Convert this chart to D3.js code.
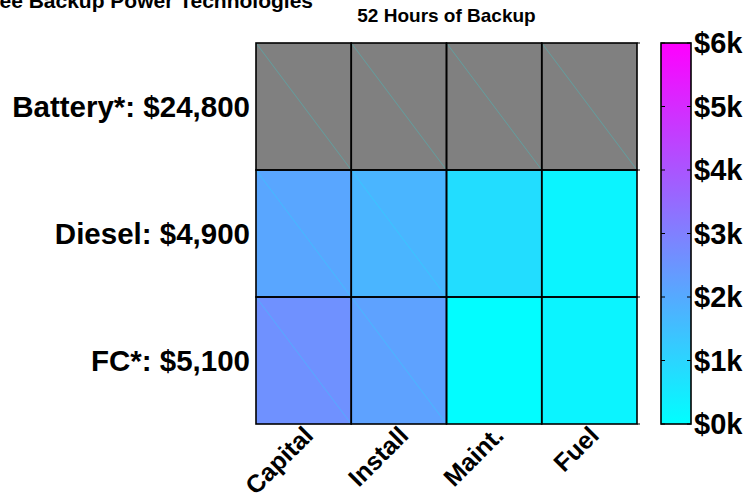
<!DOCTYPE html>
<html>
<head>
<meta charset="utf-8">
<script src="https://cdn.jsdelivr.net/npm/d3@7"></script>
<style>
  body { margin: 0; background: #ffffff; }
  text { font-family: "Liberation Sans", Arial, sans-serif; font-weight: bold; fill: #000000; }
</style>
</head>
<body>
<div id="chart"></div>
<script>
// Technologies (rows) and the total cost shown in the row label
const technologies = ['Battery*', 'Diesel', 'FC*'];
const totals = [24800, 4900, 5100];

// Cost categories (columns)
const costTypes = ['Capital', 'Install', 'Maint.', 'Fuel'];

// Cost per category, in dollars (battery cells are off the scale and drawn grey)
const batteryCosts = [null, null, null, null];
const dieselCosts = [2100, 1750, 800, 250];
const fcCosts = [2600, 2200, 50, 250];

// Colour bar ticks
const colorTicks = [0, 1000, 2000, 3000, 4000, 5000, 6000];

const chartTitle = 'Cost of Three Backup Power Technologies';
const chartSubtitle = '52 Hours of Backup';

// Total size of the svg
const totalWidth = 753;
const totalHeight = 497;

// Heatmap frame
const heat = { left: 256, top: 43, width: 381, height: 381 };
// Colour bar frame
const bar = { left: 661, top: 43, width: 30, height: 381 };

const svg = d3
    .select('#chart')
    .append('svg')
    .attr('width', totalWidth)
    .attr('height', totalHeight);

// Build the cell table
const rows = [batteryCosts, dieselCosts, fcCosts];
const cells = [];
rows.forEach((vals, r) => {
    vals.forEach((v, c) => {
        cells.push({ tech: technologies[r], cost: costTypes[c], value: v });
    });
});

// Scales
const x = d3.scaleBand().domain(costTypes).range([heat.left, heat.left + heat.width]);
const y = d3.scaleBand().domain(technologies).range([heat.top, heat.top + heat.height]);
const color = d3.scaleLinear().domain([0, 6000]).range(['#00ffff', '#ff00ff']).clamp(true);
const cbarY = d3.scaleLinear().domain([0, 6000]).range([bar.top + bar.height, bar.top]);

const fillOf = (d) => (d.value === null ? '#808080' : color(d.value));

// Cells
const cellGroup = svg.append('g');
cellGroup
    .selectAll('rect')
    .data(cells)
    .enter()
    .append('rect')
    .attr('x', (d) => x(d.cost))
    .attr('y', (d) => y(d.tech))
    .attr('width', x.bandwidth())
    .attr('height', y.bandwidth())
    .attr('fill', fillOf);

// Faint diagonal seam seen inside the cells
cellGroup
    .selectAll('line')
    .data(cells.filter((d) => d.value === null || d.value > 1000))
    .enter()
    .append('line')
    .attr('x1', (d) => x(d.cost))
    .attr('y1', (d) => y(d.tech))
    .attr('x2', (d) => x(d.cost) + x.bandwidth())
    .attr('y2', (d) => y(d.tech) + y.bandwidth())
    .attr('stroke', (d) => d3.interpolateRgb(fillOf(d), '#00ffff')(0.3))
    .attr('stroke-width', 1)
    .attr('stroke-opacity', 0.8);

// Cell edges
cellGroup
    .selectAll('rect.edge')
    .data(cells)
    .enter()
    .append('rect')
    .attr('class', 'edge')
    .attr('x', (d) => x(d.cost))
    .attr('y', (d) => y(d.tech))
    .attr('width', x.bandwidth())
    .attr('height', y.bandwidth())
    .attr('fill', 'none')
    .attr('stroke', '#000000')
    .attr('stroke-width', 1.6);

// Small ticks on the right edge at the row borders
const rowEdges = technologies.map((t) => y(t)).concat([heat.top + heat.height]);
svg.append('g')
    .selectAll('line')
    .data(rowEdges)
    .enter()
    .append('line')
    .attr('x1', heat.left + heat.width)
    .attr('x2', heat.left + heat.width + 3)
    .attr('y1', (d) => d)
    .attr('y2', (d) => d)
    .attr('stroke', '#000000')
    .attr('stroke-width', 1);

// Row labels
svg.append('g')
    .selectAll('text')
    .data(technologies)
    .enter()
    .append('text')
    .attr('x', heat.left - 6)
    .attr('y', (d) => y(d) + y.bandwidth() / 2 + 10)
    .attr('text-anchor', 'end')
    .style('font-size', '29.5px')
    .text((d, i) => `${d}: ${d3.format('$,')(totals[i])}`);

// Column labels, rotated
svg.append('g')
    .selectAll('text')
    .data(costTypes)
    .enter()
    .append('text')
    .attr('text-anchor', 'end')
    .attr('transform', (d) => `translate(${x(d) + x.bandwidth() / 2 + 11}, 437) rotate(-45)`)
    .style('font-size', '25px')
    .text((d) => d);

// Titles
svg.append('text')
    .attr('x', 313)
    .attr('y', 8)
    .attr('text-anchor', 'end')
    .style('font-size', '21px')
    .text(chartTitle);

svg.append('text')
    .attr('x', heat.left + heat.width / 2)
    .attr('y', 22)
    .attr('text-anchor', 'middle')
    .style('font-size', '19px')
    .text(chartSubtitle);

// Colour bar gradient
const defs = svg.append('defs');
const grad = defs
    .append('linearGradient')
    .attr('id', 'cbar')
    .attr('x1', 0).attr('y1', 1)
    .attr('x2', 0).attr('y2', 0);
grad.selectAll('stop')
    .data(colorTicks)
    .enter()
    .append('stop')
    .attr('offset', (d) => d / 6000)
    .attr('stop-color', (d) => color(d));

svg.append('rect')
    .attr('x', bar.left)
    .attr('y', bar.top)
    .attr('width', bar.width)
    .attr('height', bar.height)
    .attr('fill', 'url(#cbar)')
    .attr('stroke', '#000000')
    .attr('stroke-width', 1.6);

// Colour bar ticks (inside, both sides) and labels
const cbarG = svg.append('g');
cbarG.selectAll('line.l')
    .data(colorTicks)
    .enter()
    .append('line')
    .attr('x1', bar.left)
    .attr('x2', bar.left + 4)
    .attr('y1', (d) => cbarY(d))
    .attr('y2', (d) => cbarY(d))
    .attr('stroke', '#000000')
    .attr('stroke-width', 1);
cbarG.selectAll('line.r')
    .data(colorTicks)
    .enter()
    .append('line')
    .attr('x1', bar.left + bar.width - 4)
    .attr('x2', bar.left + bar.width)
    .attr('y1', (d) => cbarY(d))
    .attr('y2', (d) => cbarY(d))
    .attr('stroke', '#000000')
    .attr('stroke-width', 1);
cbarG.selectAll('text')
    .data(colorTicks)
    .enter()
    .append('text')
    .attr('x', bar.left + bar.width + 3)
    .attr('y', (d) => cbarY(d) + 10)
    .style('font-size', '29px')
    .text((d) => `$${d / 1000}k`);
</script>
</body>
</html>
